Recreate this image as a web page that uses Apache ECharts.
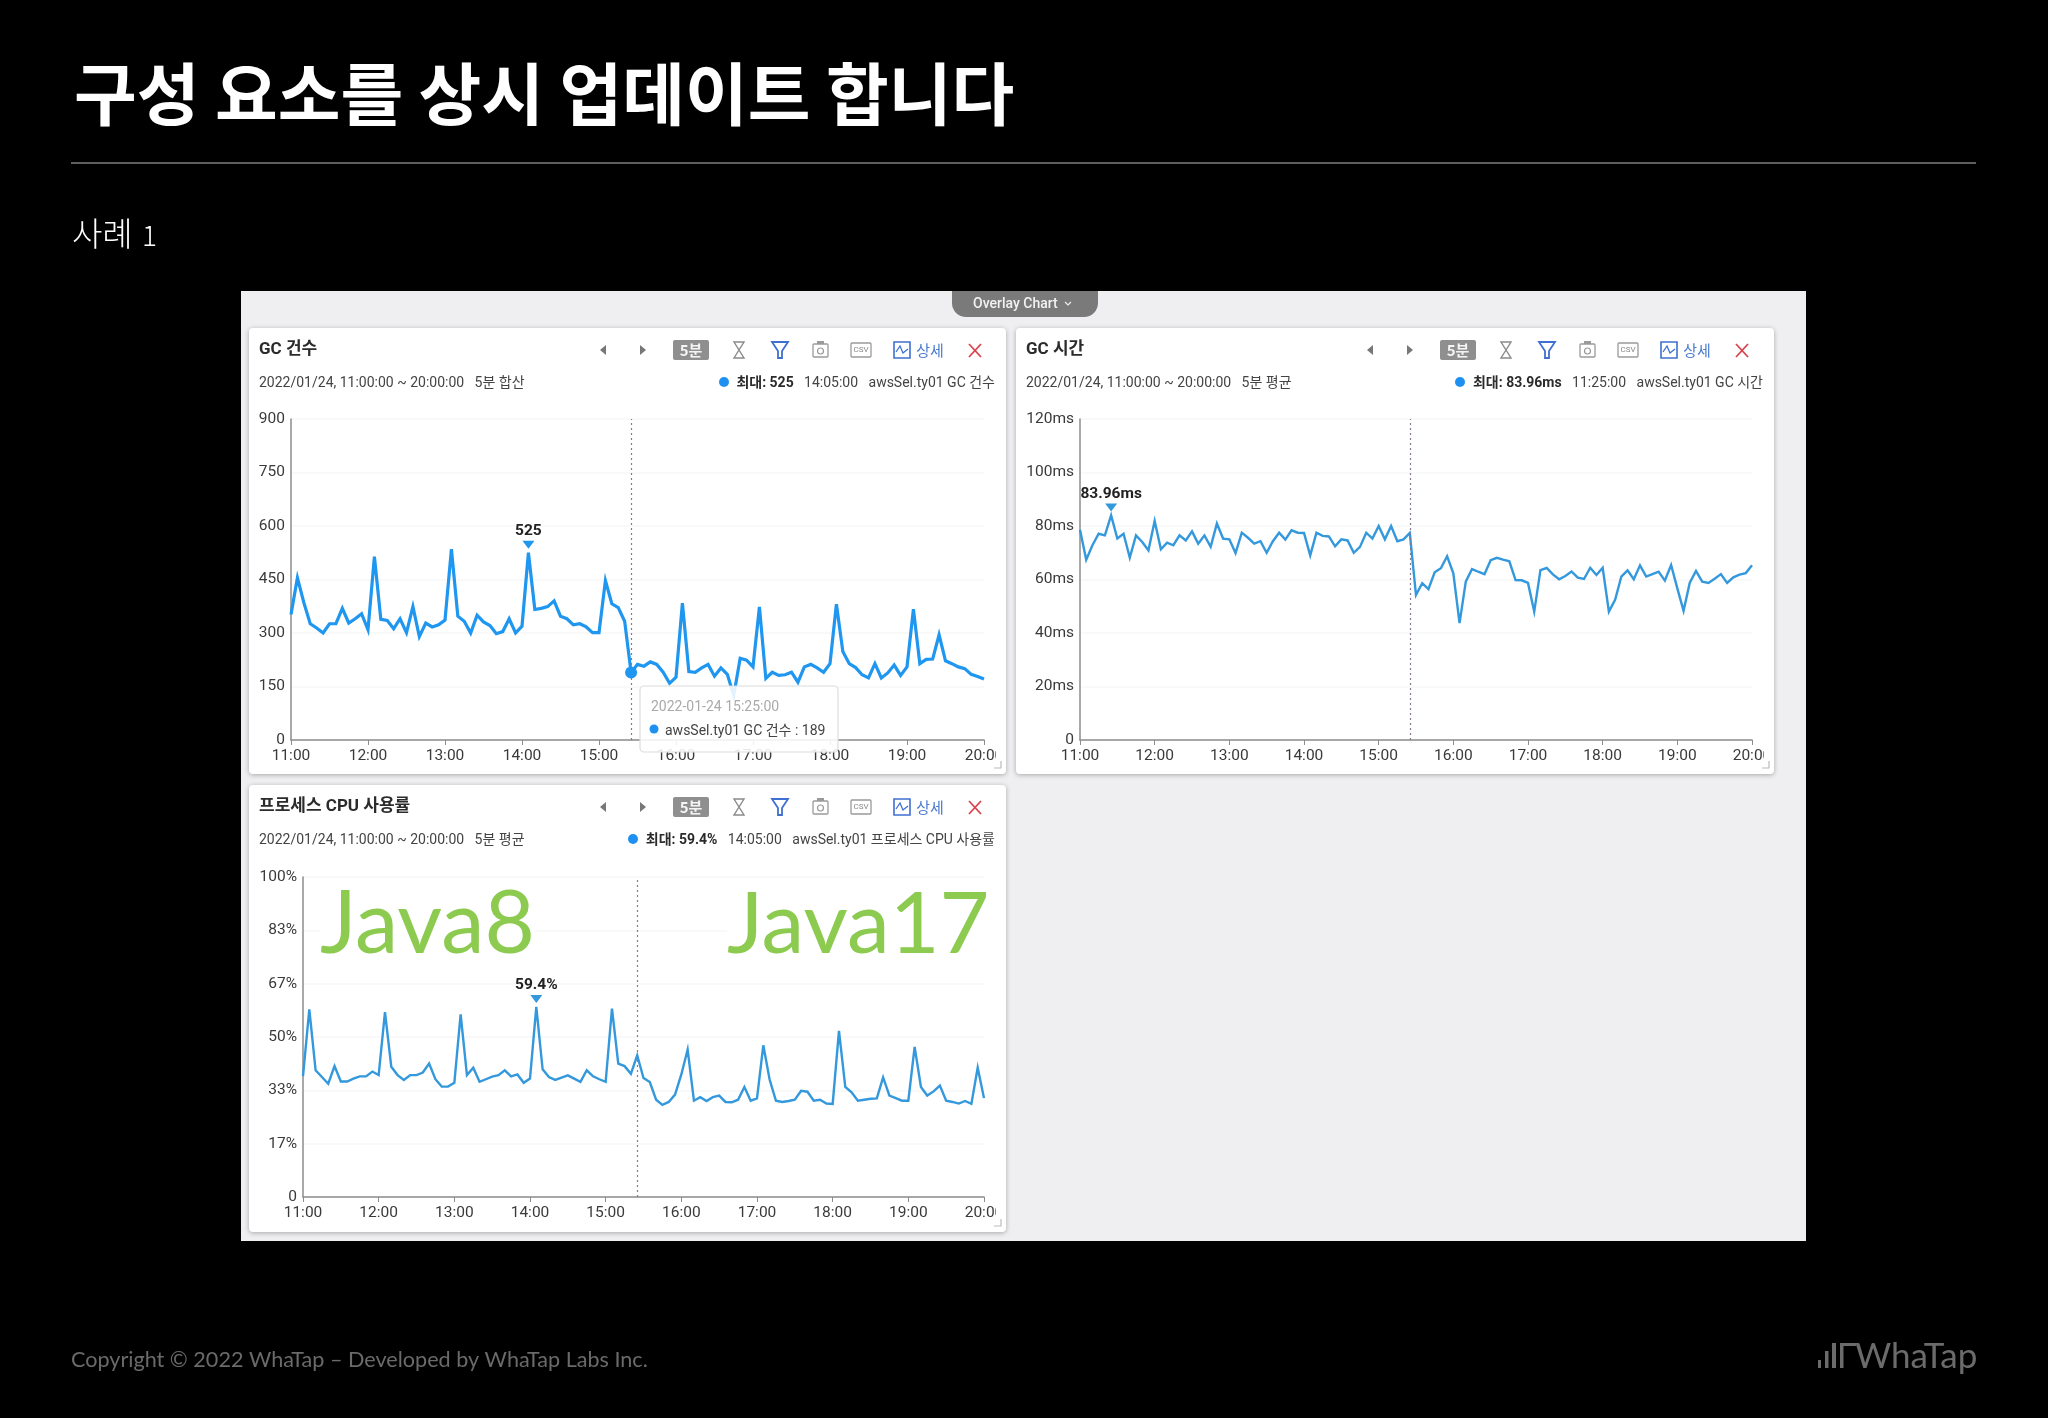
<!DOCTYPE html>
<html>
<head>
<meta charset="utf-8">
<style>
  html, body { margin: 0; padding: 0; background: #000; }
  #chart { width: 2048px; height: 1418px; }
</style>
<script src="https://cdn.jsdelivr.net/npm/echarts@6/dist/echarts.min.js"></script>
</head>
<body>
<div id="chart"></div>
<script>
// 5 minute samples, 11:00 ~ 20:00 (109 points)
const gcCount = [352,455,385,326,314,300,326,326,369,328,340,354,309,514,338,335,312,340,301,374,290,328,317,323,336,
  535,347,333,300,350,331,321,298,304,340,300,319,525,366,369,374,390,347,340,323,326,317,301,301,447,382,371,333,189,
  212,207,219,212,190,159,176,384,192,190,202,212,179,202,184,125,229,224,205,373,173,190,181,183,190,162,205,212,202,
  190,214,381,248,214,203,183,174,214,174,188,210,181,205,367,214,226,227,295,222,214,205,200,184,178,171]
const gcTime = [78.6,67.4,72.8,77.1,76.5,83.96,75.3,77.1,68.2,76.5,74,70.9,81.9,71.3,73.8,72.8,76.5,74.6,78,73.4,76.5,
  72.2,80.9,75.3,75,69.9,77.5,75.6,73.4,74.3,70,74.3,77.5,74.9,78.4,77.5,77.4,69,77.5,76.3,76.1,72.4,75,74.6,70,72.2,
  77.5,75.3,80,75,80,74.3,75,77.4,54.2,58.6,56.4,62.7,64.2,68.7,62.3,43.7,59.2,63.9,62.9,62,67.2,68.1,67.4,66.8,59.8,
  59.7,58.7,48,63.5,64.3,61.9,60.1,61.3,63,60.7,60.2,64.4,61.7,64.4,48,52.4,61.1,63.4,60.1,65.3,61.1,62,62.9,59.6,65.4,
  56.7,48.3,58.8,63.2,59.2,58.7,60.3,62,58.7,60.8,61.8,62.4,65.3]
const cpuUsage = [37.8,58.6,39.6,37.5,35.4,40.9,36.1,36.1,37,37.7,37.7,39.2,38.1,57.8,40.7,38.1,36.6,38.1,38.1,38.9,41.7,
  36.8,34.5,34.5,35.7,57.1,38.1,40.4,36,36.8,37.6,38.1,39.6,37.7,38.3,35.7,37,59.4,39.9,37.5,36.6,37.3,38,37,36,39.6,
  37.7,36.8,36,58.9,41.7,40.9,38.5,44.3,37.2,35.9,30.4,28.8,29.7,32,38.3,46.1,30.1,31.2,30,31.2,31.7,29.7,29.6,30.4,
  34.4,30.1,30.8,47.4,36.7,30.1,29.7,30,30.4,33.2,32.9,30.1,30.4,29.2,29.1,51.9,34.4,32.7,30.1,30.4,30.7,30.8,37.4,31.7,
  30.9,30.1,30.1,46.9,34.4,31.7,33,34.8,30.1,29.7,29.2,30,29.1,40.4,30.9]

// x axis categories: every 5 minutes
const timeLabels = []
for (let h = 11; h <= 20; h++) {
  for (let m = 0; m < 60 && !(h === 20 && m > 0); m += 5) {
    timeLabels.push(h + ':' + String(m).padStart(2, '0'))
  }
}
const cursorIdx = timeLabels.indexOf('15:25')

const FONT = 'Roboto, "Noto Sans CJK KR", sans-serif'
const KR = '"Noto Sans CJK KR", sans-serif'
const ICON_GRAY = '#9a9a9a'
const ICON_BLUE = '#3f6fd1'

const graphics = []
const add = el => graphics.push(Object.assign({ silent: true }, el))
const addText = (x, y, text, font, fill, extra) =>
  add(Object.assign({ type: 'text', x, y, z: 50, style: Object.assign({
    text, font, fill, textVerticalAlign: 'middle' }, extra || {}) }))

// page frame
add({ type: 'rect', z: -5, shape: { x: 241, y: 291, width: 1565, height: 950 }, style: { fill: '#efeff1' } })
addText(74, 94, '구성 요소를 상시 업데이트 합니다', 'bold 68.2px ' + KR, '#fff')
add({ type: 'line', z: 1, shape: { x1: 71, y1: 163, x2: 1976, y2: 163 }, style: { stroke: '#7f7f7f', lineWidth: 1.5 } })
addText(72, 233, '사례', '300 33px ' + KR, '#fff')
addText(142, 235, '1', '300 28px ' + KR, '#fff')
add({ type: 'rect', z: 1, shape: { x: 952, y: 291, width: 146, height: 26, r: [0, 0, 14, 14] }, style: { fill: '#7a7a7a' } })
addText(973, 304, 'Overlay Chart', '500 14px ' + FONT, '#f2f2f2')
add({ type: 'polyline', z: 50, shape: { points: [[1065, 302], [1068, 305], [1071, 302]] }, style: { stroke: '#eee', fill: null, lineWidth: 1.2 } })
addText(71, 1360, 'Copyright © 2022 WhaTap – Developed by WhaTap Labs Inc.', '21.6px Lato, sans-serif', '#6a6a6a')

// logo
;[[1818, 1360, 3, 8], [1825, 1351, 3.5, 17], [1832, 1343, 4, 25], [1840, 1343, 3.5, 25], [1840, 1343, 16, 3]].forEach(b =>
  add({ type: 'rect', z: 1, shape: { x: b[0], y: b[1], width: b[2], height: b[3] }, style: { fill: '#6b6b6b' } }))
addText(1855, 1357, 'WhaTap', '400 35px Lato, sans-serif', '#6b6b6b')

// card with its header row, icons and clipped corner
function addCard(c) {
  const { x, y, w, h } = c
  const iy = y + 22
  add({ type: 'rect', z: -2, shape: { x, y, width: w, height: h, r: 4 }, style: {
    fill: '#fff', shadowBlur: 5, shadowColor: 'rgba(0,0,0,0.3)', shadowOffsetY: 1 } })
  addText(x + 10, y + 22, c.title, 'bold 17px ' + FONT, '#2b2b2b')
  addText(x + 10, y + 55, '2022/01/24, 11:00:00 ~ 20:00:00   5분 ' + c.mode, '14px ' + FONT, '#444')
  add({ type: 'circle', z: 50, shape: { cx: c.dotX, cy: y + 54, r: 5 }, style: { fill: '#1e90f0' } })
  add({ type: 'text', z: 50, x: x + c.rightText, y: y + 55, style: {
    text: '{b|최대: ' + c.maxText + '}   ' + c.maxTime + '   ' + c.legend,
    font: '14px ' + FONT, fill: '#444', textAlign: 'right', textVerticalAlign: 'middle',
    rich: { b: { font: 'bold 14px ' + FONT, fill: '#2b2b2b' } } } })

  // prev, next
  add({ type: 'polygon', z: 50, shape: { points: [[x + 357, iy - 5], [x + 357, iy + 5], [x + 351, iy]] }, style: { fill: '#777' } })
  add({ type: 'polygon', z: 50, shape: { points: [[x + 391, iy - 5], [x + 391, iy + 5], [x + 397, iy]] }, style: { fill: '#777' } })
  // 5분 badge
  add({ type: 'rect', z: 49, shape: { x: x + 424, y: iy - 10, width: 36, height: 20, r: 2 }, style: { fill: '#8f8f8f' } })
  addText(x + 442, iy, '5분', 'bold 15px ' + KR, '#f4f4f4', { textAlign: 'center' })
  // hourglass
  add({ type: 'polygon', z: 50, shape: { points: [[x + 485, iy - 8], [x + 495, iy - 8], [x + 485, iy + 8], [x + 495, iy + 8]] }, style: { fill: null, stroke: '#8a8a8a', lineWidth: 1.4 } })
  // filter
  add({ type: 'polygon', z: 50, shape: { points: [[x + 523, iy - 8], [x + 539, iy - 8], [x + 533, iy + 1], [x + 533, iy + 8], [x + 529, iy + 8], [x + 529, iy + 1]] }, style: { fill: null, stroke: ICON_BLUE, lineWidth: 1.8 } })
  // camera
  add({ type: 'rect', z: 50, shape: { x: x + 564, y: iy - 6, width: 15, height: 13, r: 1 }, style: { fill: null, stroke: ICON_GRAY, lineWidth: 1.3 } })
  add({ type: 'rect', z: 50, shape: { x: x + 568, y: iy - 9, width: 7, height: 3 }, style: { fill: ICON_GRAY } })
  add({ type: 'circle', z: 50, shape: { cx: x + 571.5, cy: iy + 1, r: 3 }, style: { fill: null, stroke: ICON_GRAY, lineWidth: 1.2 } })
  // csv
  add({ type: 'rect', z: 50, shape: { x: x + 602, y: iy - 7, width: 20, height: 14, r: 1 }, style: { fill: null, stroke: ICON_GRAY, lineWidth: 1.3 } })
  addText(x + 612, iy, 'CSV', '8px ' + FONT, '#888', { textAlign: 'center' })
  // detail
  add({ type: 'rect', z: 50, shape: { x: x + 645, y: iy - 8, width: 16, height: 16 }, style: { fill: null, stroke: ICON_BLUE, lineWidth: 1.6 } })
  add({ type: 'polyline', z: 50, shape: { points: [[x + 647, iy + 2], [x + 651, iy - 4], [x + 654, iy + 3], [x + 659, iy - 1]] }, style: { fill: null, stroke: ICON_BLUE, lineWidth: 1.3 } })
  addText(x + 681, iy, '상세', '15px ' + KR, '#4a7bd0', { textAlign: 'center' })
  // close
  add({ type: 'line', z: 50, shape: { x1: x + 720, y1: iy - 6, x2: x + 732, y2: iy + 7 }, style: { stroke: '#d9434e', lineWidth: 1.8 } })
  add({ type: 'line', z: 50, shape: { x1: x + 732, y1: iy - 6, x2: x + 720, y2: iy + 7 }, style: { stroke: '#d9434e', lineWidth: 1.8 } })

  // last tick label runs into the card edge
  add({ type: 'rect', z: 40, shape: { x: x + w - 10, y: y + h - 34, width: 9, height: 30 }, style: { fill: '#fff' } })
  const rx = x + w - 5, ry = y + h - 6
  add({ type: 'polyline', z: 50, shape: { points: [[rx - 7, ry], [rx, ry], [rx, ry - 7]] }, style: { fill: null, stroke: '#bbb', lineWidth: 1.2 } })
}

const fmtPlain = v => String(v)
const fmtMs = v => (v === 0 ? '0' : v + 'ms')
const fmtPct = v => (v === 0 ? '0' : Math.round(v) + '%')

const panels = [
  { data: gcCount, left: 291, right: 984, top: 419, bottom: 740, yMax: 900, yStep: 150, fmt: fmtPlain,
    color: '#1f96ef', width: 3.2, peak: '525', peakTime: '14:05', hover: true,
    card: { x: 249, y: 328, w: 757, h: 446, title: 'GC 건수', mode: '합산', dotX: 724, rightText: 746,
      maxText: '525', maxTime: '14:05:00', legend: 'awsSel.ty01 GC 건수' } },
  { data: gcTime, left: 1080, right: 1752, top: 419, bottom: 740, yMax: 120, yStep: 20, fmt: fmtMs,
    color: '#3498dc', width: 2.4, peak: '83.96ms', peakTime: '11:25',
    card: { x: 1016, y: 328, w: 758, h: 446, title: 'GC 시간', mode: '평균', dotX: 1460, rightText: 747,
      maxText: '83.96ms', maxTime: '11:25:00', legend: 'awsSel.ty01 GC 시간' } },
  { data: cpuUsage, left: 303, right: 984, top: 877, bottom: 1197, yMax: 100, yStep: 100 / 6, fmt: fmtPct,
    color: '#3498dc', width: 2.4, peak: '59.4%', peakTime: '14:05',
    card: { x: 249, y: 785, w: 757, h: 447, title: '프로세스 CPU 사용률', mode: '평균', dotX: 633, rightText: 746,
      maxText: '59.4%', maxTime: '14:05:00', legend: 'awsSel.ty01 프로세스 CPU 사용률' } }
]
panels.forEach(p => addCard(p.card))

// hover box of the first chart, as caught in the screenshot
add({ type: 'rect', z: 30, shape: { x: 640, y: 686, width: 198, height: 66, r: 4 }, style: {
  fill: 'rgba(255,255,255,0.88)', stroke: '#dcdcdc', lineWidth: 1.2 } })
addText(651, 707, '2022-01-24 ' + timeLabels[cursorIdx] + ':00', '14px ' + FONT, '#aaa')
add({ type: 'circle', z: 50, shape: { cx: 654, cy: 729, r: 4.5 }, style: { fill: '#1e90f0' } })
addText(665, 731, 'awsSel.ty01 GC 건수 : ' + gcCount[cursorIdx], '14px ' + FONT, '#444')

// big annotations on the CPU chart
addText(320, 925, 'Java8', '87px Lato, sans-serif', '#8ccb50', { backgroundColor: '#fff', lineHeight: 82 })
addText(727, 925, 'Java17', '86px Lato, sans-serif', '#8ccb50', { backgroundColor: '#fff', lineHeight: 82 })

const grids = [], xAxes = [], yAxes = [], series = []
panels.forEach((p, i) => {
  grids.push({ left: p.left, top: p.top, width: p.right - p.left, height: p.bottom - p.top })
  xAxes.push({
    gridIndex: i, type: 'category', boundaryGap: false, data: timeLabels,
    axisLine: { lineStyle: { color: '#8c8c8c', width: 1.5 } },
    axisTick: { interval: 11, length: 5, lineStyle: { color: '#8c8c8c' } },
    axisLabel: { interval: 11, color: '#3a3a3a', fontFamily: FONT, fontSize: 15.5, margin: 8, hideOverlap: false },
    splitLine: { show: false }
  })
  yAxes.push({
    gridIndex: i, type: 'value', min: 0, max: p.yMax, interval: p.yStep,
    axisLine: { show: true, lineStyle: { color: '#8c8c8c', width: 1.5 } },
    axisTick: { show: false },
    axisLabel: { color: '#3a3a3a', fontFamily: FONT, fontSize: 15.5, margin: 6, formatter: p.fmt },
    splitLine: { lineStyle: { color: '#f7f7f7', width: 1.5 } }
  })
  const peakIdx = timeLabels.indexOf(p.peakTime)
  const points = [{
    coord: [peakIdx, p.data[peakIdx]], value: p.peak,
    symbol: 'triangle', symbolRotate: 180, symbolSize: [12, 8], symbolOffset: [0, -8],
    itemStyle: { color: p.color },
    label: { show: true, position: 'top', distance: 2, formatter: p.peak, color: '#222',
      fontFamily: FONT, fontWeight: 'bold', fontSize: 15.5 }
  }]
  if (p.hover) {
    points.push({
      coord: [cursorIdx, p.data[cursorIdx]], symbol: 'circle', symbolSize: 12,
      itemStyle: { color: p.color }, label: { show: false }
    })
  }
  series.push({
    type: 'line', xAxisIndex: i, yAxisIndex: i, data: p.data, showSymbol: false, smooth: false,
    lineStyle: { color: p.color, width: p.width, join: 'miter', miterLimit: 6 },
    markLine: {
      silent: true, symbol: 'none', animation: false, label: { show: false },
      lineStyle: { color: '#85788f', type: [2, 3], width: 1.2 },
      data: [{ xAxis: timeLabels[cursorIdx] }]
    },
    markPoint: { silent: true, animation: false, data: points }
  })
})

const chart = echarts.init(document.getElementById('chart'))
chart.setOption({
  backgroundColor: '#000',
  animation: false,
  grid: grids,
  xAxis: xAxes,
  yAxis: yAxes,
  series,
  graphic: { elements: graphics }
})
</script>
</body>
</html>
